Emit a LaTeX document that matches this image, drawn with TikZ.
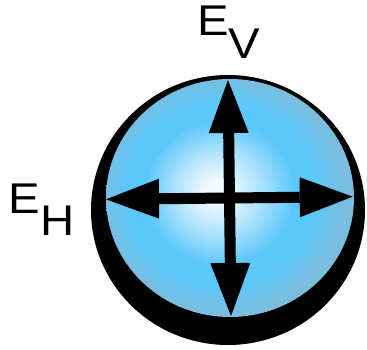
\documentclass[tikz,border=0pt]{standalone}
\usepackage{fontspec}
\setmainfont{Liberation Sans}
\usetikzlibrary{arrows.meta}
\definecolor{edgeblue}{HTML}{7ABDDE}
\definecolor{skyblue}{HTML}{5CC8FA}
\definecolor{paleblue}{HTML}{B5E5FD}
\definecolor{centerblue}{HTML}{F4FBFF}
\pgfdeclareradialshading{ball}{\pgfpoint{-3bp}{1.5bp}}{%
  color(0bp)=(centerblue); color(2bp)=(centerblue); color(8bp)=(paleblue);
  color(15bp)=(skyblue); color(19bp)=(skyblue); color(25bp)=(edgeblue); color(50bp)=(edgeblue)}
\tikzset{
  labeltext/.style={inner sep=0pt, anchor=base west, xscale=1.1,
    font=\fontsize{43}{43}\selectfont},
  fieldarrow/.style={line width=11pt,
    {Triangle[length=53pt,width=40pt,line width=0pt]}-{Triangle[length=53pt,width=40pt,line width=0pt]}}
}
\begin{document}
\begin{tikzpicture}[x=1pt,y=-1pt]
\useasboundingbox (0,0) rectangle (367,350);
% shadow and ball
\fill[black] (228,210) ellipse [x radius=137, y radius=135];
\shade[shading=ball] (230,198) ellipse [x radius=124, y radius=119];
% arrow ends
\coordinate (top) at (228,80);
\coordinate (bottom) at (231,316);
\coordinate (left) at (106,199.3);
\coordinate (right) at (352.7,196.7);
\draw[fieldarrow] (bottom) -- (top);
\draw[fieldarrow] (left) -- (right);
% labels
\node[labeltext] (ev) at (197,36) {E\raisebox{-23pt}{V}};
\node[labeltext] (eh) at (8.5,213) {E\raisebox{-22pt}{H}};
\end{tikzpicture}
\end{document}
